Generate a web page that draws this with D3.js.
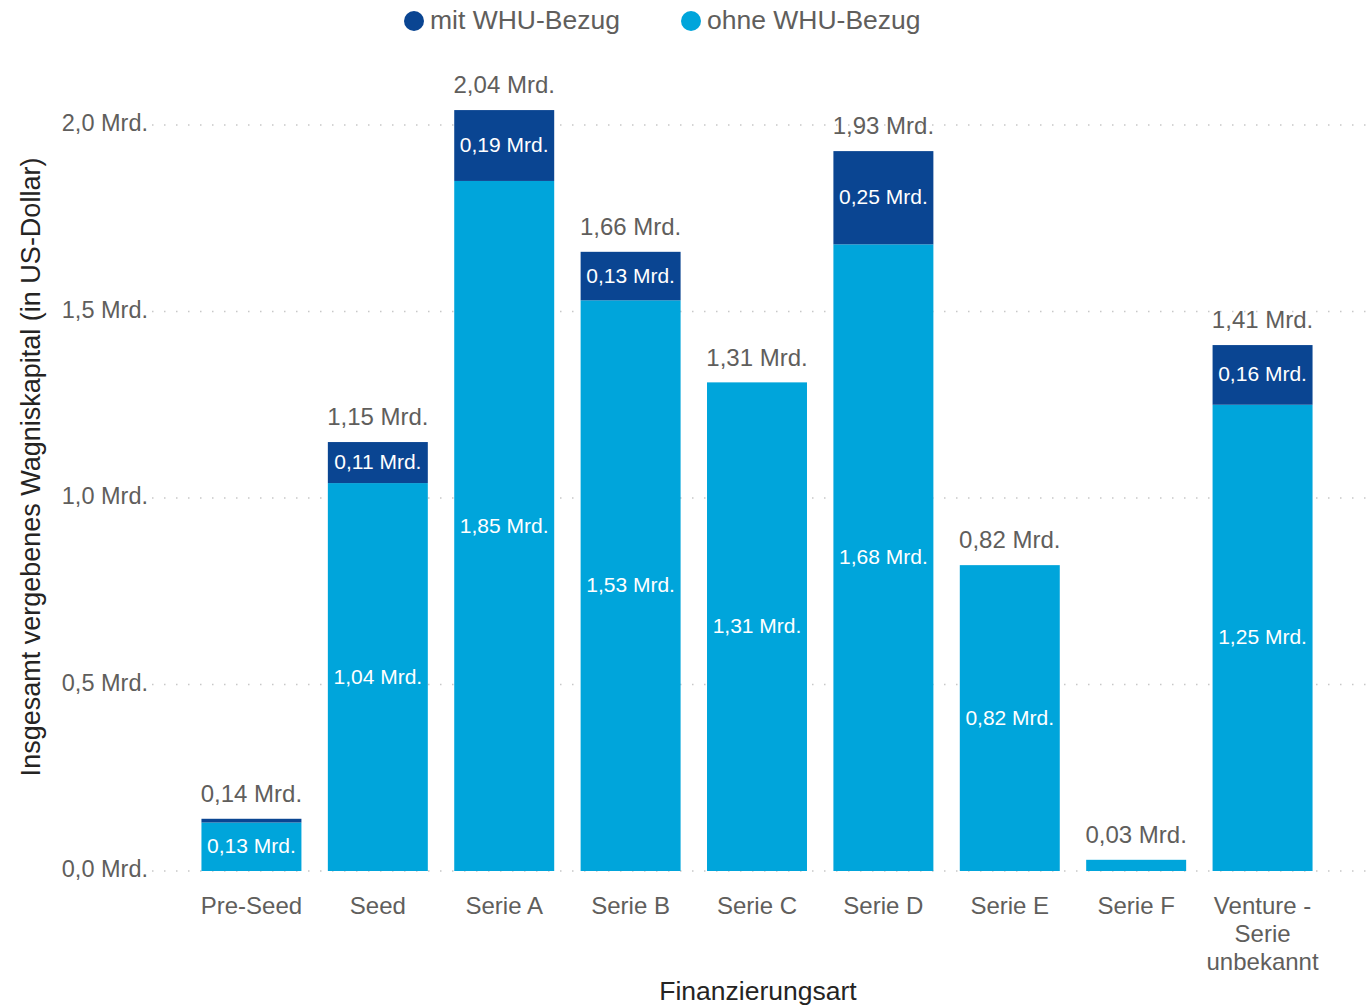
<!DOCTYPE html>
<html>
<head>
<meta charset="utf-8">
<script src="https://cdn.jsdelivr.net/npm/d3@7"></script>
<style>
  body { margin: 0; background: #fff; }
  svg text { font-family: "Liberation Sans", Arial, sans-serif; }
</style>
</head>
<body>
<div id="container"></div>
<script>
const categories = ["Pre-Seed", "Seed", "Serie A", "Serie B", "Serie C", "Serie D", "Serie E", "Serie F", "Venture - Serie unbekannt"];
const ohneWHU = [0.13, 1.04, 1.85, 1.53, 1.31, 1.68, 0.82, 0.03, 1.25];
const mitWHU = [0.01, 0.11, 0.19, 0.13, 0, 0.25, 0, 0, 0.16];
const totals = [0.14, 1.15, 2.04, 1.66, 1.31, 1.93, 0.82, 0.03, 1.41];
const yTicks = [0, 0.5, 1.0, 1.5, 2.0];
const seriesNames = ["mit WHU-Bezug", "ohne WHU-Bezug"];

const w = 1369, h = 1006;
const darkBlue = "#0a4592", lightBlue = "#00a5db", textColor = "#605e5c";

const fmt = (v, d) => v.toFixed(d).replace(".", ",") + " Mrd.";

const svg = d3.select("#container").append("svg")
  .attr("width", w).attr("height", h);

const xScale = d3.scaleBand()
  .domain(categories)
  .range([149, 1365])
  .paddingInner(0.209)
  .paddingOuter(0.415);

const yScale = d3.scaleLinear()
  .domain([0, 2.0])
  .range([871, 125]);

// gridlines
svg.append("g").selectAll("line")
  .data(yTicks).enter().append("line")
  .attr("x1", 152).attr("x2", w)
  .attr("y1", d => yScale(d)).attr("y2", d => yScale(d))
  .attr("stroke", "#c8c8c8").attr("stroke-width", 1.5)
  .attr("stroke-dasharray", "1.5,10.5");

// y axis labels
svg.append("g").selectAll("text")
  .data(yTicks).enter().append("text")
  .attr("x", 148).attr("y", d => yScale(d))
  .attr("text-anchor", "end").attr("dominant-baseline", "middle")
  .attr("font-size", 23.5).attr("fill", textColor)
  .text(d => d.toFixed(1).replace(".", ",") + " Mrd.");

// stacked bars
const stackData = categories.map((c, i) => ({cat: c, ohne: ohneWHU[i], mit: mitWHU[i], total: totals[i]}));
const stack = d3.stack().keys(["ohne", "mit"])(stackData);
const colors = {ohne: lightBlue, mit: darkBlue};

stack.forEach(layer => {
  const g = svg.append("g");
  g.selectAll("rect").data(layer).enter().append("rect")
    .attr("x", d => xScale(d.data.cat))
    .attr("width", xScale.bandwidth())
    .attr("y", d => yScale(d[1]))
    .attr("height", d => yScale(d[0]) - yScale(d[1]))
    .attr("fill", colors[layer.key]);
  g.selectAll("text").data(layer.filter(d => d[1] - d[0] >= 0.1)).enter().append("text")
    .attr("x", d => xScale(d.data.cat) + xScale.bandwidth() / 2)
    .attr("y", d => (yScale(d[0]) + yScale(d[1])) / 2 + 1)
    .attr("text-anchor", "middle").attr("dominant-baseline", "middle")
    .attr("font-size", 21).attr("fill", "#fff")
    .text(d => fmt(d[1] - d[0], 2));
});

// total labels
svg.append("g").selectAll("text")
  .data(stackData).enter().append("text")
  .attr("x", d => xScale(d.cat) + xScale.bandwidth() / 2)
  .attr("y", d => yScale(d.total) - 23)
  .attr("text-anchor", "middle").attr("dominant-baseline", "middle")
  .attr("font-size", 24).attr("fill", textColor)
  .text(d => fmt(d.total, 2));

// x axis labels (wrapped)
const wrapLines = {"Venture - Serie unbekannt": ["Venture -", "Serie", "unbekannt"]};
svg.append("g").selectAll("text")
  .data(categories).enter().append("text")
  .attr("y", 908)
  .attr("text-anchor", "middle").attr("dominant-baseline", "middle")
  .attr("font-size", 24).attr("fill", textColor)
  .each(function(d) {
    const lines = wrapLines[d] || [d];
    const t = d3.select(this);
    const x = xScale(d) + xScale.bandwidth() / 2;
    lines.forEach((l, i) => {
      t.append("tspan").attr("x", x).attr("dy", i === 0 ? 0 : 28).text(l);
    });
  });

// axis titles
svg.append("text")
  .attr("x", 758).attr("y", 993)
  .attr("text-anchor", "middle").attr("dominant-baseline", "middle")
  .attr("font-size", 26.5).attr("fill", "#252423")
  .text("Finanzierungsart");

svg.append("text")
  .attr("transform", "translate(33,467) rotate(-90)")
  .attr("text-anchor", "middle").attr("dominant-baseline", "middle")
  .attr("font-size", 27).attr("fill", "#252423")
  .text("Insgesamt vergebenes Wagniskapital (in US-Dollar)");

// legend
const legendX = [414, 691];
const legend = svg.append("g").selectAll("g")
  .data(seriesNames).enter().append("g");
legend.append("circle")
  .attr("cx", (d, i) => legendX[i]).attr("cy", 21).attr("r", 10)
  .attr("fill", (d, i) => i === 0 ? darkBlue : lightBlue);
legend.append("text")
  .attr("x", (d, i) => legendX[i] + 16).attr("y", 22)
  .attr("dominant-baseline", "middle")
  .attr("font-size", 26.5).attr("fill", textColor)
  .text(d => d);
</script>
</body>
</html>
